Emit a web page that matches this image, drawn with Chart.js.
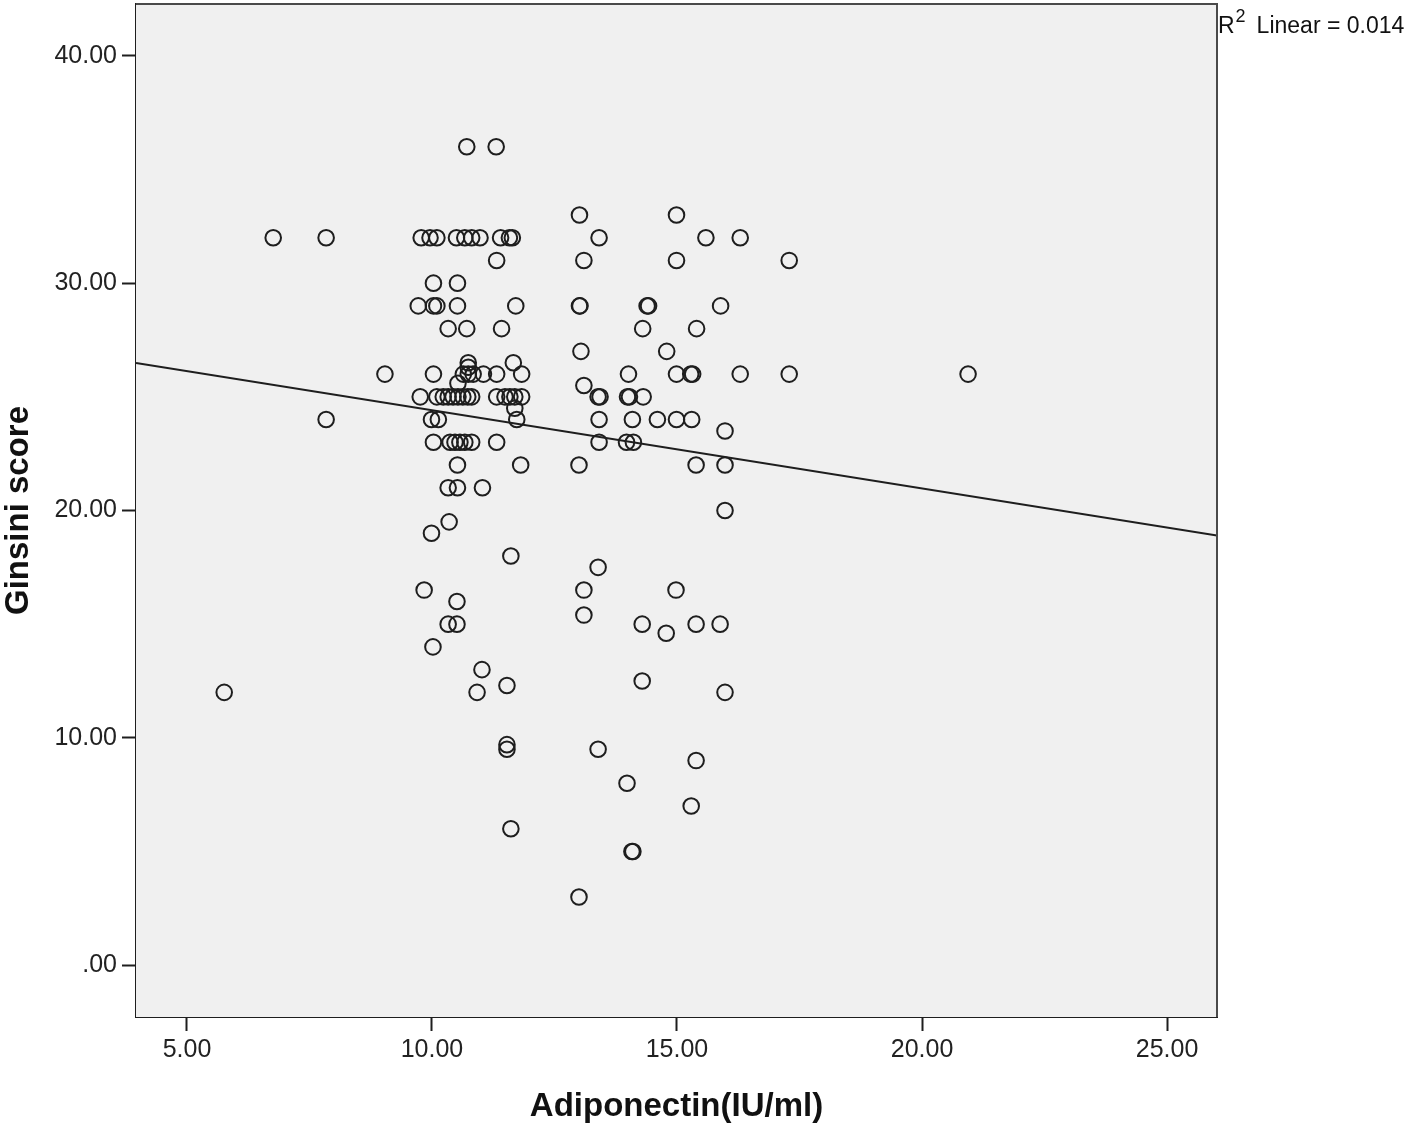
<!DOCTYPE html>
<html>
<head>
<meta charset="utf-8">
<script src="https://cdn.jsdelivr.net/npm/chart.js@4.4.1/dist/chart.umd.min.js"></script>
<style>
html,body{margin:0;padding:0;background:#fff;}
#wrap{width:1418px;height:1127px;position:relative;}
</style>
</head>
<body>
<div id="wrap"><canvas id="c" width="1418" height="1127"></canvas></div>
<script>
// ---- data ----
const adiponectin = [
  10.71, 11.31,                                                     // 36
  13.01, 14.99,                                                     // 33
  6.76, 7.84, 9.78, 9.96, 10.10, 10.50, 10.67, 10.81, 10.98, 11.40, 11.58, 11.64, 13.41, 15.59, 16.29, // 32
  11.32, 13.10, 14.99, 17.29,                                       // 31
  10.03, 10.52,                                                     // 30
  9.72, 10.03, 10.10, 10.52, 11.71, 13.01, 13.02, 14.39, 14.42, 15.89, // 29
  10.33, 10.71, 11.42, 14.30, 15.40,                                // 28
  13.04, 14.79,                                                     // 27
  10.74, 11.66, 10.74,                                              // 26.5 / 26.3
  9.04, 10.03, 10.64, 10.74, 10.84, 11.05, 11.32, 11.83, 14.01, 14.99, 15.28, 15.32, 16.29, 17.29, 20.94, // 26
  10.53, 13.10,                                                     // 25.5
  9.76, 10.10, 10.23, 10.33, 10.43, 10.53, 10.63, 10.73, 10.81, 11.32, 11.49, 11.59, 11.69, 11.83, 13.39, 13.43, 13.99, 14.03, 14.31, // 25
  11.69,                                                            // 24.5
  7.84, 9.99, 10.13, 11.73, 13.41, 14.09, 14.60, 14.99, 15.30,      // 24
  15.98,                                                            // 23.5
  10.03, 10.37, 10.47, 10.57, 10.67, 10.81, 11.32, 13.41, 13.97, 14.11, // 23
  10.52, 11.81, 13.00, 15.39, 15.98,                                // 22
  10.33, 10.52, 11.03,                                              // 21
  15.98,                                                            // 20
  10.35,                                                            // 19.5
  9.99,                                                             // 19
  11.61,                                                            // 18
  13.39,                                                            // 17.5
  9.84, 13.10, 14.98,                                               // 16.5
  10.51,                                                            // 16
  13.10,                                                            // 15.4
  10.33, 10.51, 14.29, 15.39, 15.88,                                // 15
  14.78,                                                            // 14.6
  10.02,                                                            // 14
  11.02,                                                            // 13
  14.29,                                                            // 12.5
  11.53,                                                            // 12.3
  5.76, 10.92, 15.98,                                               // 12
  11.53,                                                            // 9.7
  11.53, 13.39,                                                     // 9.5
  15.39,                                                            // 9
  13.98,                                                            // 8
  15.29,                                                            // 7
  11.61,                                                            // 6
  14.08, 14.10,                                                     // 5
  13.00                                                             // 3
];
const ginsini = [
  36, 36,
  33, 33,
  32, 32, 32, 32, 32, 32, 32, 32, 32, 32, 32, 32, 32, 32, 32,
  31, 31, 31, 31,
  30, 30,
  29, 29, 29, 29, 29, 29, 29, 29, 29, 29,
  28, 28, 28, 28, 28,
  27, 27,
  26.5, 26.5, 26.3,
  26, 26, 26, 26, 26, 26, 26, 26, 26, 26, 26, 26, 26, 26, 26,
  25.6, 25.5,
  25, 25, 25, 25, 25, 25, 25, 25, 25, 25, 25, 25, 25, 25, 25, 25, 25, 25, 25,
  24.5,
  24, 24, 24, 24, 24, 24, 24, 24, 24,
  23.5,
  23, 23, 23, 23, 23, 23, 23, 23, 23, 23,
  22, 22, 22, 22, 22,
  21, 21, 21,
  20,
  19.5,
  19,
  18,
  17.5,
  16.5, 16.5, 16.5,
  16,
  15.4,
  15, 15, 15, 15, 15,
  14.6,
  14,
  13,
  12.5,
  12.3,
  12, 12, 12,
  9.7,
  9.5, 9.5,
  9,
  8,
  7,
  6,
  5, 5,
  3
];
const fitX = [3.96, 26.02];
const fitY = [26.49, 18.90];
const xRange = [3.96, 26.02];
const yRange = [-2.28, 42.28];
const xTickValues = [5, 10, 15, 20, 25];
const xTickLabels = ['5.00', '10.00', '15.00', '20.00', '25.00'];
const yTickValues = [0, 10, 20, 30, 40];
const yTickLabels = ['.00', '10.00', '20.00', '30.00', '40.00'];
const xTitle = 'Adiponectin(IU/ml)';
const yTitle = 'Ginsini score';
const r2Sup = '2';
const r2Text = 'Linear = 0.014';

// ---- chart ----
const points = adiponectin.map((x, i) => ({x: x, y: ginsini[i]}));
const fitLine = fitX.map((x, i) => ({x: x, y: fitY[i]}));
const FONT = '"Liberation Sans", Arial, Helvetica, sans-serif';
const INK = '#1e1e1e';

const plotDecor = {
  id: 'plotDecor',
  beforeDatasetsDraw(chart) {
    const {ctx, chartArea: a} = chart;
    ctx.save();
    ctx.fillStyle = '#f0f0f0';
    ctx.fillRect(a.left, a.top, a.right - a.left, a.bottom - a.top);
    ctx.restore();
  },
  afterDraw(chart) {
    const {ctx, chartArea: a} = chart;
    ctx.save();
    ctx.strokeStyle = '#4a4a4a';
    ctx.lineWidth = 2;
    ctx.beginPath();
    ctx.moveTo(a.left, a.top);
    ctx.lineTo(a.right, a.top);
    ctx.lineTo(a.right, a.bottom);
    ctx.stroke();
    // R² annotation
    ctx.fillStyle = '#111';
    ctx.textBaseline = 'alphabetic';
    ctx.textAlign = 'left';
    ctx.font = '23px ' + FONT;
    const x0 = a.right + 1;
    ctx.fillText('R', x0, 33);
    const wR = ctx.measureText('R').width;
    ctx.font = '18px ' + FONT;
    ctx.fillText(r2Sup, x0 + wR + 1, 22);
    const w2 = ctx.measureText(r2Sup).width;
    ctx.font = '23px ' + FONT;
    ctx.fillText(r2Text, x0 + wR + w2 + 12, 33);
    ctx.restore();
  }
};

new Chart(document.getElementById('c'), {
  type: 'scatter',
  data: {
    datasets: [
      {
        type: 'line',
        data: fitLine,
        borderColor: INK,
        borderWidth: 2,
        pointRadius: 0,
        fill: false,
        order: 2
      },
      {
        data: points,
        pointStyle: 'circle',
        pointRadius: 7.8,
        pointBorderWidth: 2,
        pointBorderColor: INK,
        pointBackgroundColor: 'rgba(0,0,0,0)',
        borderColor: INK,
        backgroundColor: 'rgba(0,0,0,0)',
        order: 1
      }
    ]
  },
  options: {
    responsive: false,
    animation: false,
    devicePixelRatio: 1,
    layout: {autoPadding: false, padding: {left: 0, top: 4, right: 201, bottom: 0}},
    plugins: {legend: {display: false}, tooltip: {enabled: false}},
    scales: {
      x: {
        type: 'linear',
        position: 'bottom',
        min: xRange[0],
        max: xRange[1],
        afterBuildTicks(s) { s.ticks = xTickValues.map(v => ({value: v})); },
        afterFit(s) { s.height = 110; s.paddingLeft = 0; s.paddingRight = 0; },
        ticks: {
          autoSkip: false,
          maxRotation: 0,
          padding: 4,
          color: '#222',
          font: {family: FONT, size: 25},
          callback: (v) => xTickLabels[xTickValues.indexOf(v)]
        },
        grid: {drawOnChartArea: false, drawTicks: true, tickLength: 14, tickWidth: 2, tickColor: INK},
        border: {display: true, color: INK, width: 2},
        title: {
          display: true,
          text: xTitle,
          color: '#111',
          font: {family: FONT, size: 33, weight: 'bold'},
          padding: {top: 0, bottom: 0}
        }
      },
      y: {
        type: 'linear',
        position: 'left',
        min: yRange[0],
        max: yRange[1],
        afterBuildTicks(s) { s.ticks = yTickValues.map(v => ({value: v})); },
        afterFit(s) { s.width = 136; s.paddingTop = 0; s.paddingBottom = 0; },
        ticks: {
          autoSkip: false,
          padding: 5,
          color: '#222',
          font: {family: FONT, size: 25},
          callback: (v) => yTickLabels[yTickValues.indexOf(v)]
        },
        grid: {drawOnChartArea: false, drawTicks: true, tickLength: 14, tickWidth: 2, tickColor: INK},
        border: {display: true, color: INK, width: 2},
        title: {
          display: true,
          text: yTitle,
          color: '#111',
          font: {family: FONT, size: 33, weight: 'bold', lineHeight: 1},
          padding: {top: 2, bottom: 0}
        }
      }
    }
  },
  plugins: [plotDecor]
});
</script>
</body>
</html>
